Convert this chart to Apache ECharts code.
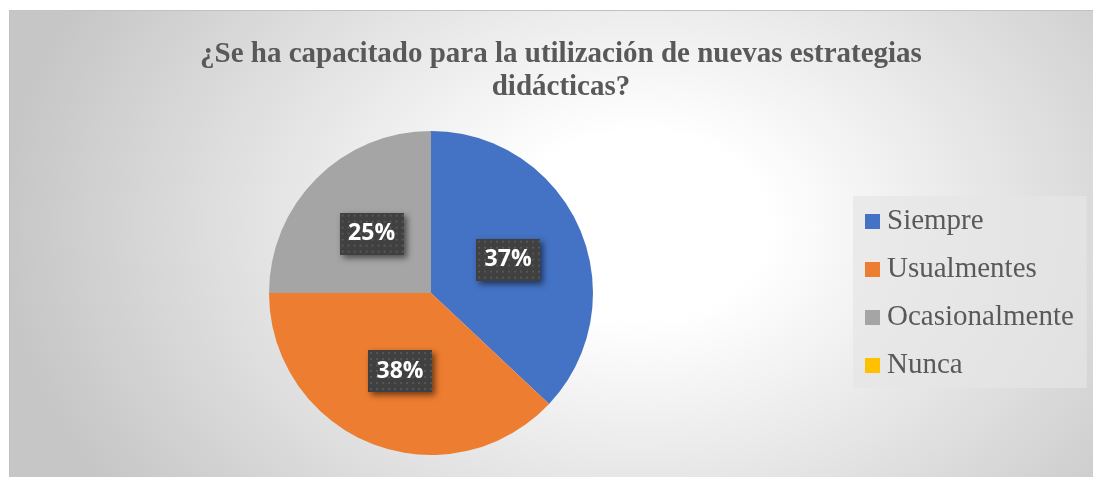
<!DOCTYPE html>
<html>
<head>
<meta charset="utf-8">
<script src="https://cdn.jsdelivr.net/npm/echarts@6/dist/echarts.min.js"></script>
<style>
  html, body { margin: 0; padding: 0; background: #fff; }
  #wrap { position: relative; width: 1093px; height: 478px; overflow: hidden; }
  #bg {
    position: absolute; left: 9px; top: 10px; right: 0; bottom: 1px;
    border-left: 1px solid #c2c2c2; border-top: 1px solid #c2c2c2;
    background: radial-gradient(ellipse 640px 470px at 630px 215px, #ffffff 0%, #ffffff 20%, #c6c6c6 100%);
  }
  #chart { position: absolute; left: 0; top: 0; width: 1093px; height: 478px; }
</style>
</head>
<body>
<div id="wrap">
  <div id="bg"></div>
  <div id="chart"></div>
</div>
<script>
// datos
const categories = ['Siempre', 'Usualmentes', 'Ocasionalmente', 'Nunca'];
const values = [37, 38, 25, 0];
const colors = ['#4472C4', '#ED7D31', '#A5A5A5', '#FFC000'];

// fondo punteado de las etiquetas
function dotPattern (w, h) {
  const c = document.createElement('canvas');
  c.width = w;
  c.height = h;
  const ctx = c.getContext('2d');
  ctx.fillStyle = '#404040';
  ctx.fillRect(0, 0, w, h);
  ctx.fillStyle = '#575757';
  for (let y = 2; y < h; y += 6) {
    for (let x = 2; x < w; x += 6) {
      ctx.fillRect(x, y, 2, 2);
    }
  }
  return c;
}

const chart = echarts.init(document.getElementById('chart'));
const labelBg = dotPattern(64, 42);

const option = {
  animation: false,
  color: colors,
  title: {
    text: '¿Se ha capacitado para la utilización de nuevas estrategias\ndidácticas?',
    left: 556,
    top: 33,
    textAlign: 'center',
    textStyle: {
      fontFamily: 'Liberation Serif',
      fontWeight: 'bold',
      fontSize: 29,
      lineHeight: 33,
      color: '#595959'
    }
  },
  legend: {
    orient: 'vertical',
    left: 853,
    top: 196,
    padding: [11, 13, 8, 12],
    itemWidth: 15,
    itemHeight: 15,
    itemGap: 19,
    icon: 'rect',
    backgroundColor: 'rgba(230,230,230,0.7)',
    selectedMode: false,
    textStyle: {
      fontFamily: 'Liberation Serif',
      fontSize: 29,
      color: '#595959',
      padding: [0, 0, 0, 2]
    },
    data: categories
  },
  series: [
    {
      type: 'pie',
      center: [431, 293],
      radius: 162,
      startAngle: 90,
      clockwise: true,
      percentPrecision: 0,
      silent: true,
      emphasis: { disabled: true },
      labelLine: { show: false },
      label: {
        position: 'inside',
        formatter: '{d}%',
        fontFamily: 'Open Sans',
        fontWeight: 'bold',
        fontSize: 23,
        color: '#ffffff',
        width: 48,
        height: 22,
        overflow: 'none',
        align: 'center',
        padding: [10, 8],
        backgroundColor: { image: labelBg },
        shadowColor: 'rgba(0,0,0,0.55)',
        shadowBlur: 6,
        shadowOffsetX: 3,
        shadowOffsetY: 3
      },
      data: categories.map((name, i) => ({
        name: name,
        value: values[i],
        label: { show: values[i] > 0 }
      }))
    }
  ]
};

chart.setOption(option);
</script>
</body>
</html>
